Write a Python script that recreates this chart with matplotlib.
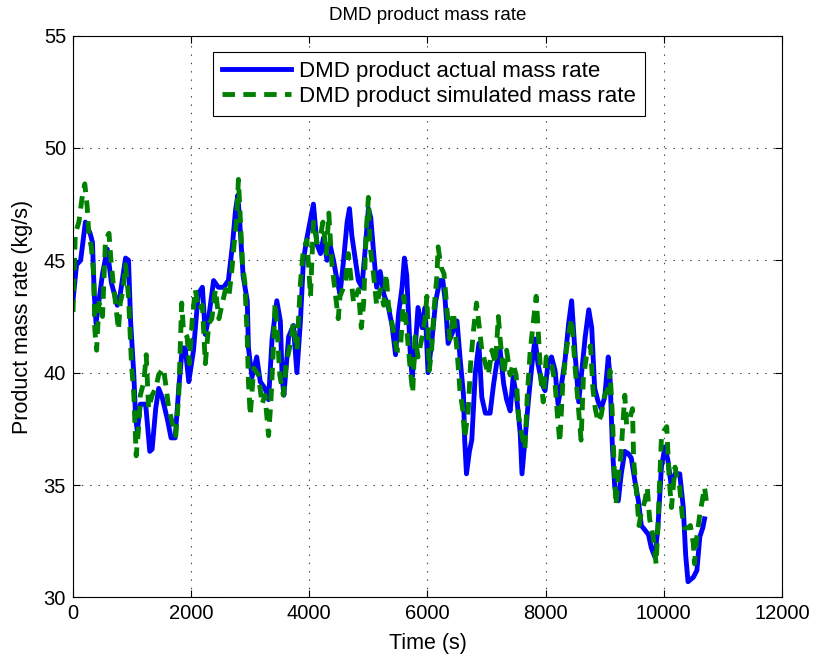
import matplotlib
matplotlib.use("Agg")
import matplotlib.pyplot as plt

plt.rcParams['font.family'] = ['Liberation Sans', 'DejaVu Sans']
plt.rcParams['lines.scale_dashes'] = False

# actual mass rate (time s, kg/s)
t_actual = [0, 60, 130, 210, 290, 330, 360, 390, 430, 500, 580, 650, 750, 800, 890, 940, 975,
            1030, 1060, 1090, 1140, 1230, 1300, 1340, 1400, 1450, 1510, 1600, 1660, 1730, 1790,
            1850, 1900, 1960, 2040, 2120, 2190, 2240, 2300, 2380, 2460, 2550, 2630, 2700, 2750,
            2790, 2830, 2880, 2950, 2970, 3030, 3110, 3170, 3250, 3310, 3370, 3450, 3510, 3540,
            3570, 3650, 3730, 3790, 3850, 3900, 3960, 4070, 4130, 4190, 4240, 4300, 4350, 4410,
            4470, 4520, 4580, 4640, 4680, 4720, 4780, 4830, 4890, 4950, 5000, 5040, 5090, 5140,
            5200, 5260, 5340, 5400, 5460, 5510, 5570, 5610, 5650, 5710, 5740, 5790, 5840, 5910,
            5960, 6010, 6070, 6140, 6210, 6260, 6300, 6350, 6410, 6500, 6550, 6610, 6630, 6660,
            6710, 6750, 6810, 6870, 6920, 6980, 7060, 7120, 7170, 7230, 7290, 7340, 7400, 7450,
            7510, 7570, 7600, 7650, 7710, 7770, 7820, 7870, 7940, 7990, 8040, 8100, 8160, 8210,
            8270, 8330, 8390, 8440, 8500, 8560, 8610, 8670, 8730, 8780, 8830, 8890, 8940, 9000,
            9060, 9090, 9130, 9170, 9230, 9280, 9340, 9400, 9450, 9510, 9570, 9620, 9680, 9740,
            9790, 9850, 9900, 9960, 10020, 10070, 10130, 10190, 10270, 10330, 10370, 10410,
            10500, 10560, 10610, 10660, 10690]
m_actual = [43.2, 44.8, 45.0, 46.7, 46.2, 45.8, 43.5, 42.2, 43.0, 44.4, 45.5, 44.0, 43.0, 43.5,
            45.1, 45.0, 42.3, 39.9, 38.0, 37.4, 38.6, 38.6, 36.5, 36.6, 38.4, 39.3, 38.9, 37.9,
            37.1, 37.1, 39.3, 41.1, 41.1, 39.6, 41.0, 43.5, 43.8, 41.7, 42.5, 44.1, 43.8, 43.8,
            44.1, 45.7, 47.2, 47.9, 46.4, 44.3, 43.2, 41.1, 39.8, 40.7, 39.6, 39.3, 38.8, 41.5,
            43.2, 42.3, 39.8, 39.0, 41.6, 42.1, 40.0, 42.3, 45.0, 46.0, 47.5, 45.7, 45.3, 46.0,
            45.0, 45.7, 45.0, 44.1, 43.5, 45.0, 46.7, 47.3, 46.1, 45.0, 44.1, 43.8, 45.6, 47.3,
            46.9, 45.3, 43.8, 44.5, 43.5, 42.9, 42.1, 40.8, 42.6, 43.8, 45.1, 44.3, 40.8, 39.8,
            41.0, 42.9, 42.0, 42.9, 40.0, 41.3, 43.2, 44.1, 44.1, 43.2, 41.3, 41.7, 42.3, 40.7,
            39.0, 37.0, 35.5, 36.5, 37.0, 40.0, 41.3, 38.9, 38.2, 38.2, 39.5, 40.4, 41.0, 39.5,
            38.8, 38.3, 39.8, 38.9, 37.3, 35.5, 37.0, 38.8, 40.4, 41.5, 40.4, 39.5, 39.2, 40.4,
            40.7, 40.1, 38.6, 39.5, 40.6, 42.2, 43.2, 40.8, 38.7, 40.0, 41.6, 42.8, 42.0, 39.3,
            38.7, 38.4, 38.9, 40.7, 39.8, 36.7, 34.9, 34.3, 35.5, 36.5, 36.4, 36.2, 35.2, 34.3,
            33.2, 33.0, 32.8, 32.2, 31.8, 33.1, 35.8, 36.7, 36.1, 34.9, 35.5, 35.5, 34.0, 31.9,
            30.7, 30.9, 31.2, 32.7, 33.1, 33.5]

# simulated mass rate
t_sim = [0, 40, 100, 160, 200, 240, 270, 310, 350, 370, 400, 440, 500, 550, 610, 640, 680, 720,
         770, 800, 850, 890, 940, 990, 1030, 1070, 1110, 1140, 1200, 1240, 1280, 1340, 1400,
         1450, 1530, 1580, 1620, 1680, 1740, 1790, 1840, 1870, 1930, 1970, 2020, 2070, 2130,
         2190, 2240, 2300, 2350, 2410, 2470, 2520, 2580, 2640, 2690, 2730, 2770, 2800, 2840,
         2870, 2910, 2950, 2970, 3000, 3060, 3140, 3200, 3250, 3310, 3350, 3390, 3420, 3450,
         3500, 3560, 3610, 3680, 3730, 3790, 3850, 3900, 3960, 4020, 4070, 4130, 4190, 4230,
         4290, 4330, 4380, 4420, 4490, 4520, 4610, 4660, 4750, 4830, 4880, 4920, 4960, 5000,
         5030, 5090, 5140, 5200, 5260, 5300, 5340, 5400, 5440, 5480, 5540, 5600, 5650, 5700,
         5750, 5790, 5840, 5910, 5960, 5990, 6030, 6070, 6110, 6160, 6180, 6230, 6280, 6330,
         6380, 6440, 6500, 6550, 6600, 6630, 6690, 6730, 6780, 6830, 6870, 6920, 6980, 7030,
         7090, 7150, 7200, 7230, 7290, 7340, 7400, 7450, 7500, 7540, 7600, 7650, 7690, 7740,
         7790, 7840, 7880, 7920, 7960, 8010, 8100, 8160, 8200, 8240, 8290, 8350, 8410, 8440,
         8500, 8560, 8600, 8640, 8690, 8760, 8800, 8840, 8890, 8940, 9000, 9060, 9090, 9130,
         9160, 9190, 9230, 9270, 9310, 9340, 9370, 9430, 9470, 9490, 9540, 9580, 9620, 9680,
         9720, 9760, 9820, 9870, 9900, 9930, 9960, 10000, 10050, 10090, 10130, 10190, 10230,
         10270, 10310, 10350, 10410, 10450, 10500, 10520, 10560, 10610, 10650, 10690, 10720]
m_sim = [42.7, 46.2, 46.7, 47.9, 48.4, 47.4, 46.1, 45.6, 44.4, 41.9, 41.0, 43.1, 42.5, 45.9,
         46.2, 45.1, 44.0, 43.1, 41.9, 43.1, 43.7, 44.8, 43.4, 40.4, 39.0, 36.3, 37.5, 39.0,
         39.6, 40.8, 38.4, 39.0, 39.3, 39.9, 40.2, 39.3, 38.4, 37.8, 37.2, 39.0, 43.1, 41.9,
         41.6, 40.4, 42.4, 43.7, 42.8, 43.0, 40.4, 42.2, 42.4, 43.7, 42.4, 43.0, 43.7, 43.4,
         44.6, 45.8, 46.8, 48.6, 46.4, 44.8, 44.0, 41.5, 39.6, 38.1, 40.2, 39.9, 38.6, 39.0,
         37.2, 38.7, 41.0, 43.1, 42.2, 39.9, 39.0, 40.4, 41.3, 42.2, 41.0, 44.0, 45.5, 45.9,
         43.4, 46.7, 45.8, 46.1, 46.7, 45.3, 47.1, 44.9, 44.0, 42.4, 43.4, 44.0, 45.3, 43.1,
         43.7, 42.0, 43.1, 46.1, 47.8, 45.6, 44.3, 43.0, 43.7, 43.0, 44.4, 43.0, 42.2, 41.6,
         41.0, 41.0, 43.4, 41.9, 40.4, 39.1, 41.6, 40.7, 41.6, 42.4, 43.4, 40.1, 41.0, 42.8,
         44.3, 45.6, 44.7, 44.4, 42.8, 41.5, 42.7, 41.0, 39.2, 38.3, 37.1, 38.3, 40.4, 41.9,
         43.1, 42.2, 41.0, 40.4, 39.9, 41.0, 40.4, 42.5, 41.5, 39.9, 41.0, 39.9, 40.4, 39.9,
         38.1, 37.2, 36.6, 39.0, 41.0, 42.2, 43.4, 41.6, 39.7, 38.7, 40.7, 40.4, 39.5, 38.1,
         36.9, 39.5, 41.0, 42.0, 42.4, 40.2, 38.3, 37.0, 39.8, 40.7, 41.2, 39.3, 38.4, 37.8,
         38.1, 39.0, 39.3, 40.1, 38.1, 35.8, 34.1, 35.3, 36.2, 37.8, 39.0, 37.7, 38.0, 38.4,
         36.1, 34.6, 33.2, 33.8, 34.3, 34.9, 33.5, 32.7, 31.5, 33.1, 35.2, 37.1, 37.4, 37.6,
         35.3, 34.0, 35.8, 35.2, 34.9, 33.7, 33.1, 33.1, 33.2, 32.4, 31.5, 32.7, 33.7, 34.3,
         34.9, 34.3]

x_ticks = [0, 2000, 4000, 6000, 8000, 10000, 12000]
y_ticks = [30, 35, 40, 45, 50, 55]

fig = plt.figure(figsize=(8.2, 6.58), dpi=100)
ax = fig.add_axes([0.089, 0.092, 0.8646, 0.854])

ax.plot(t_actual, m_actual, color='#0000ff', linewidth=3.5,
        label='DMD product actual mass rate')
ax.plot(t_sim, m_sim, color='#008000', linewidth=3.5, linestyle=(0, (9, 6)),
        dash_capstyle='butt', label='DMD product simulated mass rate')

ax.set_xlim(0, 12000)
ax.set_ylim(30, 55)
ax.set_xticks(x_ticks)
ax.set_yticks(y_ticks)
ax.tick_params(direction='in', top=True, right=True, labelsize=14.5, length=5, pad=5)
ax.grid(True, color='0.25', linestyle=(0, (1, 5)), linewidth=0.8)
for s in ax.spines.values():
    s.set_linewidth(0.8)

ax.set_title('DMD product mass rate', fontsize=13.5, pad=11)
ax.set_xlabel('Time (s)', fontsize=15.5, labelpad=7)
ax.set_ylabel('Product mass rate (kg/s)', fontsize=15.5, labelpad=8)

leg = ax.legend(loc='upper center', bbox_to_anchor=(0.502, 0.971), fontsize=16,
                fancybox=False, edgecolor='black', framealpha=1, handlelength=3.1,
                borderpad=0.4, labelspacing=0.2, handletextpad=0.35, borderaxespad=0)
leg.get_frame().set_linewidth(0.8)

fig.savefig('out.png', dpi=100)
